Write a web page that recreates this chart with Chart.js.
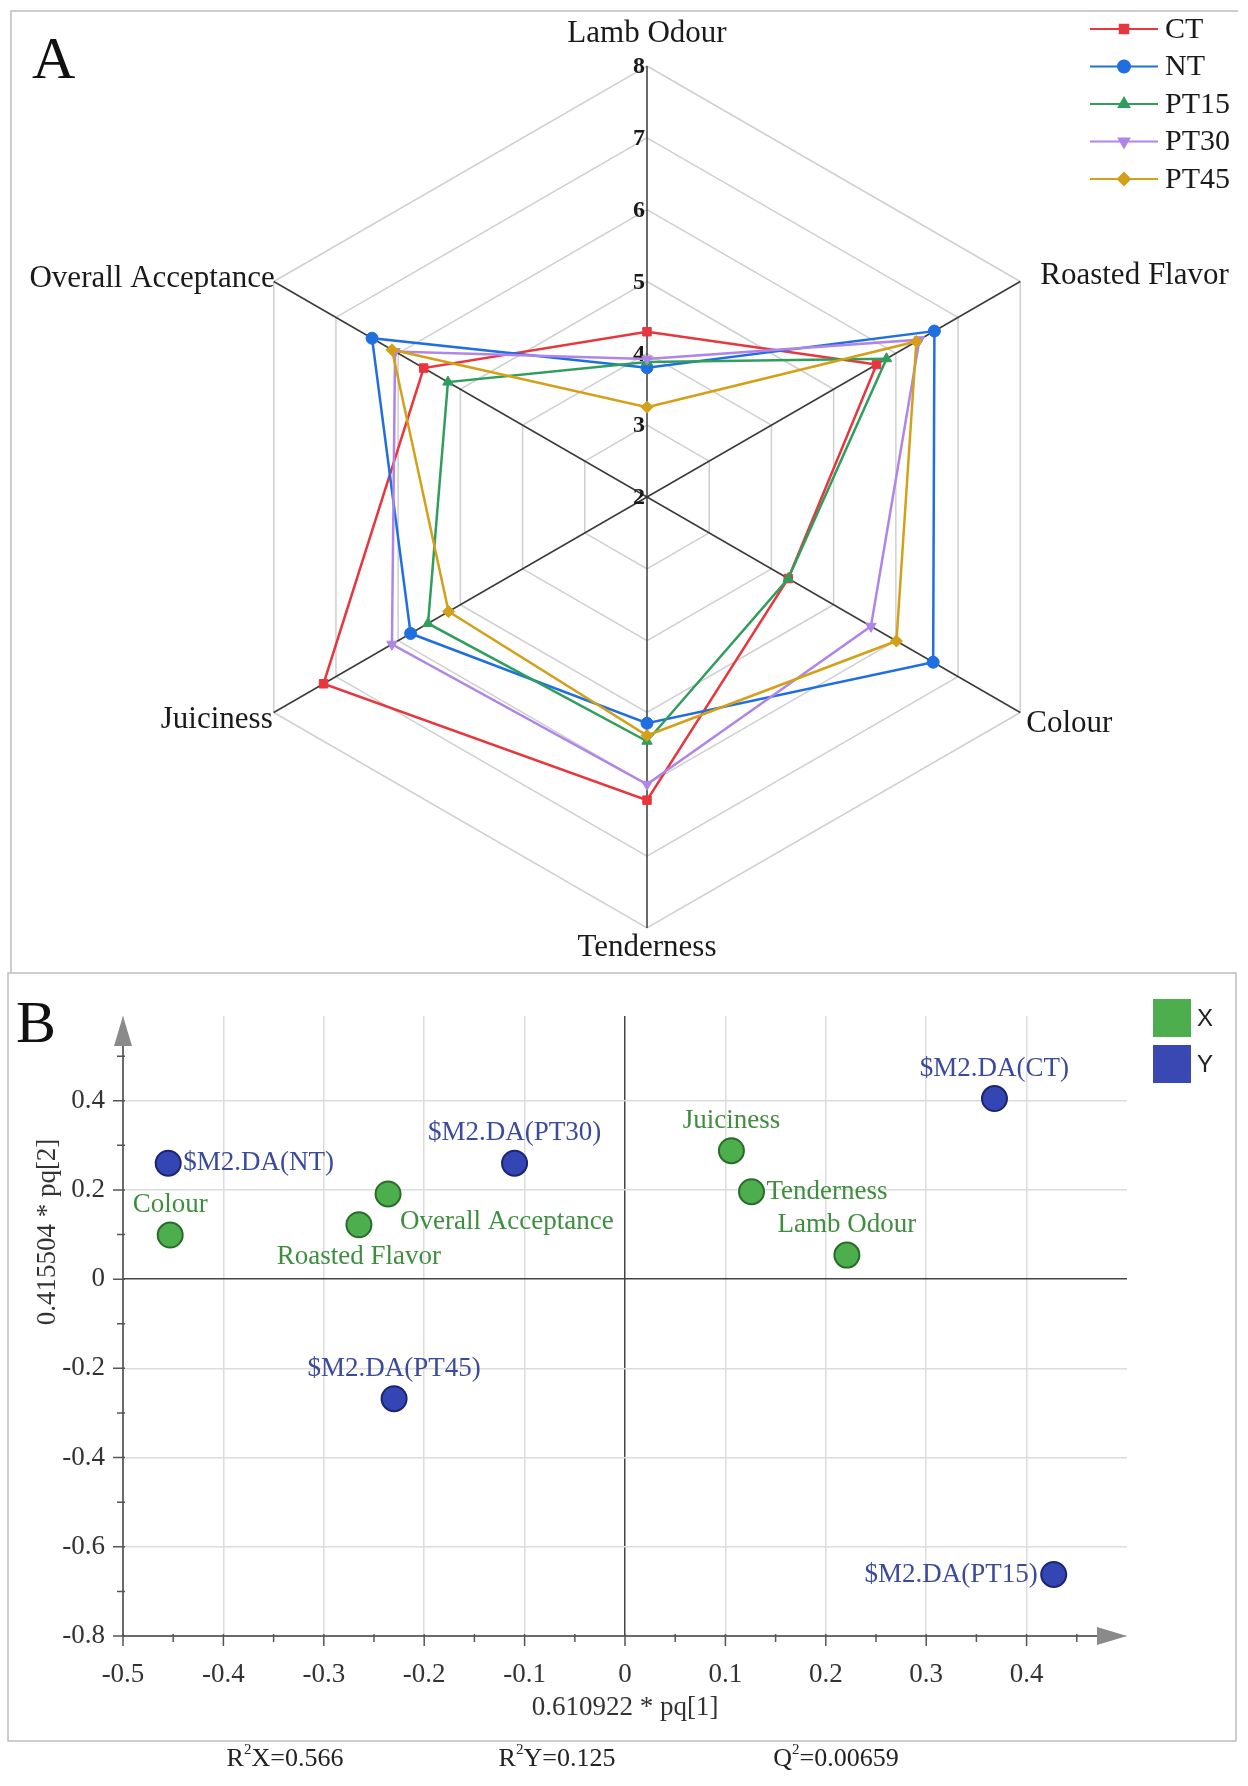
<!DOCTYPE html>
<html>
<head>
<meta charset="utf-8">
<script src="https://cdn.jsdelivr.net/npm/chart.js@4.4.1/dist/chart.umd.min.js"></script>
<style>
  html, body { margin: 0; padding: 0; background: #fff; }
  #wrap { position: relative; width: 1248px; height: 1786px; }
  #wrap canvas { position: absolute; left: 0; top: 0; }
</style>
</head>
<body>
<div id="wrap">
  <canvas id="radarChart" width="1248" height="1786"></canvas>
  <canvas id="plsChart" width="1248" height="1786"></canvas>
</div>
<script>
// ---- panel A: sensory scores ----
const attributes = ['Lamb Odour', 'Roasted Flavor', 'Colour', 'Tenderness', 'Juiciness', 'Overall Acceptance'];
const groupNames = ['CT', 'NT', 'PT15', 'PT30', 'PT45'];
const ctScores = [4.3, 5.69, 4.27, 6.22, 7.2, 5.59];
const ntScores = [3.8, 6.62, 6.6, 5.15, 5.8, 6.42];
const pt15Scores = [3.88, 5.85, 4.27, 5.4, 5.52, 5.2];
const pt30Scores = [3.92, 6.38, 5.6, 6.0, 6.1, 6.05];
const pt45Scores = [3.25, 6.33, 6.01, 5.32, 5.19, 6.1];
const radarTicks = [2, 3, 4, 5, 6, 7, 8];

// ---- panel B: PLS-DA loadings ----
const xVarNames = ['Colour', 'Roasted Flavor', 'Overall Acceptance', 'Juiciness', 'Tenderness', 'Lamb Odour'];
const xVarPq1 = [-0.453, -0.265, -0.236, 0.106, 0.126, 0.221];
const xVarPq2 = [0.099, 0.122, 0.191, 0.288, 0.196, 0.054];
const yVarNames = ['$M2.DA(CT)', '$M2.DA(NT)', '$M2.DA(PT15)', '$M2.DA(PT30)', '$M2.DA(PT45)'];
const yVarPq1 = [0.368, -0.455, 0.427, -0.11, -0.23];
const yVarPq2 = [0.405, 0.26, -0.662, 0.26, -0.268];
const fitStats = [['R', '2', 'X=0.566'], ['R', '2', 'Y=0.125'], ['Q', '2', '=0.00659']];

const serif = '"Liberation Serif", "Times New Roman", serif';

const groupColors = ['#e8363e', '#1f6fe0', '#2f9e5c', '#b085e8', '#d4a019'];
const groupPoints = [
  { style: 'rect', rot: 0 },
  { style: 'circle', rot: 0 },
  { style: 'triangle', rot: 0 },
  { style: 'triangle', rot: 180 },
  { style: 'rectRot', rot: 0 }
];
const allScores = [ctScores, ntScores, pt15Scores, pt30Scores, pt45Scores];

// where each axis name sits relative to its outer vertex
const attrLabelPlace = [
  { dx: 0, dy: -32, align: 'center' },
  { dx: 20, dy: -6, align: 'left' },
  { dx: 6, dy: 11, align: 'left' },
  { dx: 0, dy: 20, align: 'center' },
  { dx: -1, dy: 7, align: 'right' },
  { dx: 1, dy: -3, align: 'right' }
];

const radarExtras = {
  id: 'radarExtras',
  beforeDatasetsDraw(chart) {
    const ctx = chart.ctx, r = chart.scales.r;
    ctx.save();
    ctx.font = 'bold 24px ' + serif;
    ctx.fillStyle = '#1a1a1a';
    ctx.textAlign = 'right';
    ctx.textBaseline = 'middle';
    radarTicks.forEach(v => {
      ctx.fillText(String(v), r.xCenter - 2, r.yCenter - r.getDistanceFromCenterForValue(v) + 1);
    });
    ctx.restore();
  },
  afterDraw(chart) {
    const ctx = chart.ctx, r = chart.scales.r;
    ctx.save();

    // frame of panel A
    ctx.strokeStyle = '#bdbdbd';
    ctx.lineWidth = 1.5;
    ctx.beginPath();
    ctx.moveTo(11, 973);
    ctx.lineTo(11, 11);
    ctx.lineTo(1238, 11);
    ctx.stroke();

    // axis names
    ctx.font = '31px ' + serif;
    ctx.fillStyle = '#1a1a1a';
    ctx.textBaseline = 'middle';
    attributes.forEach((name, i) => {
      const p = r.getPointPosition(i, r.drawingArea);
      const pl = attrLabelPlace[i];
      ctx.textAlign = pl.align;
      ctx.fillText(name, p.x + pl.dx, p.y + pl.dy);
    });

    // legend
    ctx.font = '30px ' + serif;
    ctx.textAlign = 'left';
    groupNames.forEach((name, i) => {
      const y = 29 + i * 37.5;
      ctx.strokeStyle = groupColors[i];
      ctx.fillStyle = groupColors[i];
      ctx.lineWidth = 2;
      ctx.beginPath();
      ctx.moveTo(1090, y);
      ctx.lineTo(1158, y);
      ctx.stroke();
      Chart.helpers.drawPoint(ctx, {
        pointStyle: groupPoints[i].style, rotation: groupPoints[i].rot,
        radius: 6, borderWidth: 1
      }, 1124, y);
      ctx.fillStyle = '#1a1a1a';
      ctx.fillText(name, 1165, y + 1);
    });

    // panel letter
    ctx.font = '60px ' + serif;
    ctx.fillStyle = '#111';
    ctx.textBaseline = 'alphabetic';
    ctx.fillText('A', 32, 78);
    ctx.restore();
  }
};

new Chart(document.getElementById('radarChart'), {
  type: 'radar',
  data: {
    labels: attributes,
    datasets: groupNames.map((name, i) => ({
      label: name,
      data: allScores[i],
      borderColor: groupColors[i],
      backgroundColor: groupColors[i],
      pointBackgroundColor: groupColors[i],
      pointBorderColor: groupColors[i],
      pointStyle: groupPoints[i].style,
      pointRotation: groupPoints[i].rot,
      pointRadius: 6,
      pointBorderWidth: 1,
      borderWidth: 2.5,
      fill: false,
      order: groupNames.length - i
    }))
  },
  options: {
    responsive: false,
    animation: false,
    events: [],
    layout: { padding: { left: 216, top: 66, right: 170, bottom: 858 } },
    plugins: {
      legend: { display: false },
      tooltip: { enabled: false }
    },
    scales: {
      r: {
        min: 2,
        max: 8,
        ticks: { stepSize: 1, display: false },
        pointLabels: { display: false },
        grid: { color: '#cfcfcf', lineWidth: 1.5 },
        angleLines: { color: '#3a3a3a', lineWidth: 1.5 }
      }
    }
  },
  plugins: [radarExtras]
});

// ---- panel B ----
const xVarPlace = ['above', 'below', 'belowRight', 'above', 'right', 'above'];
const yVarPlace = ['above', 'right', 'left', 'above', 'above'];

function placeLabel(ctx, text, x, y, where) {
  if (where === 'above') { ctx.textAlign = 'center'; ctx.fillText(text, x, y - 30); }
  else if (where === 'below') { ctx.textAlign = 'center'; ctx.fillText(text, x, y + 32); }
  else if (where === 'belowRight') { ctx.textAlign = 'left'; ctx.fillText(text, x + 12, y + 28); }
  else if (where === 'right') { ctx.textAlign = 'left'; ctx.fillText(text, x + 15, y); }
  else { ctx.textAlign = 'right'; ctx.fillText(text, x - 16, y); }
}

function drawSupText(ctx, parts, cx, y) {
  const big = '26px ' + serif, small = '15px ' + serif;
  ctx.font = big;
  const w1 = ctx.measureText(parts[0]).width, w3 = ctx.measureText(parts[2]).width;
  ctx.font = small;
  const w2 = ctx.measureText(parts[1]).width;
  let x = cx - (w1 + w2 + w3) / 2;
  ctx.textAlign = 'left';
  ctx.font = big;
  ctx.fillText(parts[0], x, y);
  x += w1;
  ctx.font = small;
  ctx.fillText(parts[1], x, y - 9);
  x += w2;
  ctx.font = big;
  ctx.fillText(parts[2], x, y);
}

const plsExtras = {
  id: 'plsExtras',
  afterDraw(chart) {
    const ctx = chart.ctx, xs = chart.scales.x, ys = chart.scales.y, ca = chart.chartArea;
    const x0 = xs.getPixelForValue(-0.5), yb = ys.getPixelForValue(-0.8);
    ctx.save();

    // frame of panel B
    ctx.strokeStyle = '#bdbdbd';
    ctx.lineWidth = 1.5;
    ctx.strokeRect(8, 973, 1228, 768);

    // axes with arrows
    ctx.strokeStyle = '#6a6a6a';
    ctx.lineWidth = 2;
    ctx.beginPath();
    ctx.moveTo(x0, yb);
    ctx.lineTo(x0, ca.top + 24);
    ctx.moveTo(x0, yb);
    ctx.lineTo(ca.right - 24, yb);
    ctx.stroke();
    ctx.fillStyle = '#8a8a8a';
    ctx.beginPath();
    ctx.moveTo(x0, ca.top);
    ctx.lineTo(x0 - 9, ca.top + 30);
    ctx.lineTo(x0 + 9, ca.top + 30);
    ctx.closePath();
    ctx.fill();
    ctx.beginPath();
    ctx.moveTo(ca.right, yb);
    ctx.lineTo(ca.right - 30, yb - 9);
    ctx.lineTo(ca.right - 30, yb + 9);
    ctx.closePath();
    ctx.fill();

    // tick marks
    ctx.strokeStyle = '#555';
    ctx.lineWidth = 1.5;
    ctx.beginPath();
    for (let k = -10; k <= 9; k++) {
      const px = xs.getPixelForValue(k * 0.05);
      const len = k % 2 === 0 ? 10 : 6;
      ctx.moveTo(px, yb - 2);
      ctx.lineTo(px, yb + len);
    }
    for (let k = -8; k <= 5; k++) {
      const py = ys.getPixelForValue(k * 0.1);
      const len = k % 2 === 0 ? 10 : 6;
      ctx.moveTo(x0 - len, py);
      ctx.lineTo(x0 + 2, py);
    }
    ctx.stroke();

    // y title
    ctx.font = '27px ' + serif;
    ctx.fillStyle = '#333';
    ctx.textAlign = 'center';
    ctx.textBaseline = 'middle';
    ctx.save();
    ctx.translate(48, 1232);
    ctx.rotate(-Math.PI / 2);
    ctx.fillText('0.415504 * pq[2]', 0, 0);
    ctx.restore();

    // point labels
    ctx.font = '27px ' + serif;
    const xMeta = chart.getDatasetMeta(0), yMeta = chart.getDatasetMeta(1);
    ctx.fillStyle = '#3f8d3f';
    xMeta.data.forEach((pt, i) => placeLabel(ctx, xVarNames[i], pt.x, pt.y, xVarPlace[i]));
    ctx.fillStyle = '#3b4a9c';
    yMeta.data.forEach((pt, i) => placeLabel(ctx, yVarNames[i], pt.x, pt.y, yVarPlace[i]));

    // legend
    ctx.fillStyle = '#4cae4c';
    ctx.fillRect(1153, 999, 38, 38);
    ctx.fillStyle = '#3a48b4';
    ctx.fillRect(1153, 1045, 38, 38);
    ctx.fillStyle = '#222';
    ctx.font = '24px "Liberation Sans", Arial, sans-serif';
    ctx.textAlign = 'left';
    ctx.fillText('X', 1197, 1019);
    ctx.fillText('Y', 1197, 1065);

    // panel letter
    ctx.font = '60px ' + serif;
    ctx.fillStyle = '#111';
    ctx.textBaseline = 'alphabetic';
    ctx.fillText('B', 16, 1042);

    // fit statistics
    ctx.fillStyle = '#222';
    ctx.textBaseline = 'middle';
    const statX = [285, 557, 836];
    fitStats.forEach((s, i) => drawSupText(ctx, s, statX[i], 1759));
    ctx.restore();
  }
};

function gridColour(c, hideAbove) {
  const v = c.tick.value;
  if (Math.abs(v) < 1e-9) return '#444';
  if (v > hideAbove) return 'rgba(0,0,0,0)';
  return '#dcdcdc';
}

new Chart(document.getElementById('plsChart'), {
  type: 'scatter',
  data: {
    datasets: [
      {
        label: 'X',
        data: xVarPq1.map((v, i) => ({ x: v, y: xVarPq2[i] })),
        backgroundColor: '#4cae4c',
        borderColor: '#2a6a2a',
        pointRadius: 12.5,
        pointBorderWidth: 2
      },
      {
        label: 'Y',
        data: yVarPq1.map((v, i) => ({ x: v, y: yVarPq2[i] })),
        backgroundColor: '#3445b4',
        borderColor: '#1c2570',
        pointRadius: 12.5,
        pointBorderWidth: 2
      }
    ]
  },
  options: {
    responsive: false,
    animation: false,
    events: [],
    layout: { padding: { left: 33, right: 121, top: 1016, bottom: 60 } },
    plugins: {
      legend: { display: false },
      tooltip: { enabled: false }
    },
    scales: {
      x: {
        type: 'linear',
        min: -0.5,
        max: 0.5,
        afterFit(s) { s.height = 90; },
        border: { display: false },
        grid: { drawTicks: false, lineWidth: 1.5, color: c => gridColour(c, 0.45) },
        ticks: {
          stepSize: 0.1,
          includeBounds: false,
          padding: 23,
          color: '#333',
          font: { family: serif, size: 27 },
          callback: v => (v > 0.45 ? '' : String(Math.round(v * 10) / 10))
        },
        title: {
          display: true,
          text: '0.610922 * pq[1]',
          color: '#333',
          font: { family: serif, size: 27 },
          padding: { top: 0, bottom: 2 }
        }
      },
      y: {
        type: 'linear',
        min: -0.8,
        max: 0.59,
        afterFit(s) { s.width = 90; },
        border: { display: false },
        grid: { drawTicks: false, lineWidth: 1.5, color: c => gridColour(c, 0.5) },
        ticks: {
          stepSize: 0.2,
          includeBounds: false,
          padding: 18,
          color: '#333',
          font: { family: serif, size: 27 },
          callback: v => String(Math.round(v * 10) / 10)
        }
      }
    }
  },
  plugins: [plsExtras]
});
</script>
</body>
</html>
